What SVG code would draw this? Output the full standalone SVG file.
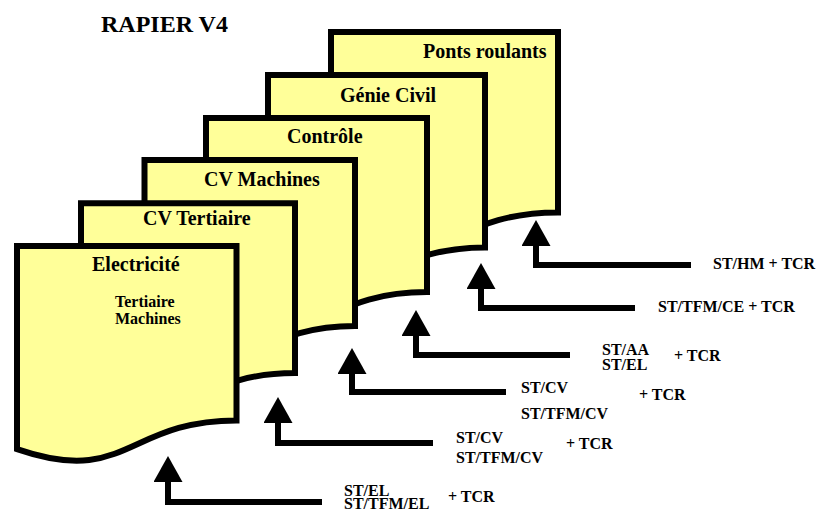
<svg xmlns="http://www.w3.org/2000/svg" width="817" height="512" viewBox="0 0 817 512">
<style>
.doc{fill:#FFFF99;stroke:#000;stroke-width:6;stroke-linejoin:miter}
.t{font-family:"Liberation Serif","Times New Roman",serif;font-weight:bold;fill:#000}
.h{font-size:20px}
.s{font-size:16px}
.conn{fill:none;stroke:#000;stroke-width:6;stroke-linejoin:miter;marker-end:url(#ah)}
</style>
<defs>
<marker id="ah" markerUnits="userSpaceOnUse" markerWidth="26" markerHeight="29" viewBox="0 0 26 29" refX="6" refY="14.5" orient="auto">
<path d="M0,0 L26,14.5 L0,29 Z" fill="#000"/>
</marker>
</defs>
<rect width="817" height="512" fill="#fff"/>
<text class="t" x="101" y="32" font-size="24">RAPIER V4</text>
<g id="doc-ponts">
<path class="doc" d="M331,32 H558 V212.4 C444.5,212.4 444.5,281.2 331,242.2 Z"/>
<text class="t h" x="423" y="58">Ponts roulants</text>
</g>
<g id="doc-genie">
<path class="doc" d="M268,75 H485 V247.4 C376.5,247.4 376.5,313.1 268,275.8 Z"/>
<text class="t h" x="340" y="102">Génie Civil</text>
</g>
<g id="doc-controle">
<path class="doc" d="M206,118 H427 V292 C316.5,292 316.5,358.3 206,320.7 Z"/>
<text class="t h" x="287" y="143">Contrôle</text>
</g>
<g id="doc-cvmachines">
<path class="doc" d="M144.5,160 H355 V326 C249.75,326 249.75,389.3 144.5,353.3 Z"/>
<text class="t h" x="204" y="186">CV Machines</text>
</g>
<g id="doc-cvtertiaire">
<path class="doc" d="M81,203.3 H295 V373 C188,373 188,437.6 81,400.9 Z"/>
<text class="t h" x="143" y="225">CV Tertiaire</text>
</g>
<g id="doc-electricite">
<path class="doc" d="M17,246 H236.5 V420.4 C126.75,420.4 126.75,486.9 17,449.1 Z"/>
<text class="t h" x="92" y="271">Electricité</text>
<text class="t s" x="115" y="307">Tertiaire</text>
<text class="t s" x="115" y="324">Machines</text>
</g>
<g id="connectors">
<path class="conn" d="M322,502 H168 V476"/>
<path class="conn" d="M433,443 H278 V417"/>
<path class="conn" d="M506,392 H352 V368"/>
<path class="conn" d="M570,355 H416 V330"/>
<path class="conn" d="M635,308 H481 V283"/>
<path class="conn" d="M691,265 H536 V240"/>
</g>
<g id="labels">
<text class="t s" x="713" y="269">ST/HM + TCR</text>
<text class="t s" x="658" y="312">ST/TFM/CE + TCR</text>
<text class="t s" x="602" y="355">ST/AA</text>
<text class="t s" x="602" y="369.5">ST/EL</text>
<text class="t s" x="674" y="361">+ TCR</text>
<text class="t s" x="521" y="393">ST/CV</text>
<text class="t s" x="521" y="418.5">ST/TFM/CV</text>
<text class="t s" x="639" y="400">+ TCR</text>
<text class="t s" x="456" y="442.5">ST/CV</text>
<text class="t s" x="456" y="463">ST/TFM/CV</text>
<text class="t s" x="566" y="449">+ TCR</text>
<text class="t s" x="344" y="496">ST/EL</text>
<text class="t s" x="344" y="509">ST/TFM/EL</text>
<text class="t s" x="448" y="502">+ TCR</text>
</g>
</svg>
